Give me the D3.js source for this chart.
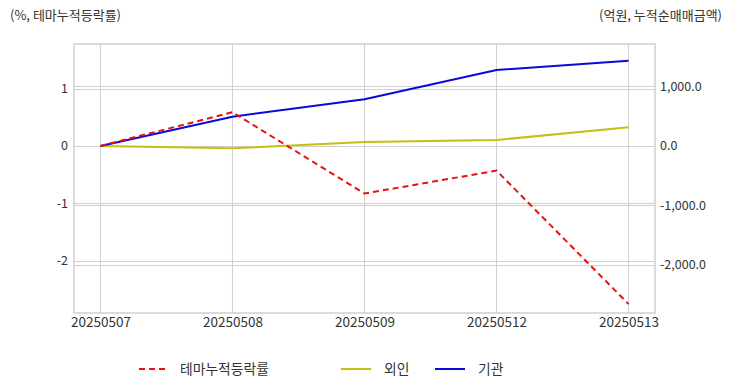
<!DOCTYPE html>
<html><head><meta charset="utf-8">
<script src="https://cdn.jsdelivr.net/npm/d3@7"></script>
<style>
body{margin:0;background:#fff;}
svg text{font-family:"Noto Sans CJK KR","Noto Sans",sans-serif;fill:#333;}
</style></head>
<body><svg id="c" width="732" height="392"></svg>
<script>
const categories = ["20250507","20250508","20250509","20250512","20250513"];
const themeRate = [0, 0.59, -0.83, -0.43, -2.76];
const foreign = [0, -40, 67, 101, 314];
const institution = [0, 492, 785, 1277, 1434];
const leftTicks = [1, 0, -1, -2];
const rightTicks = [1000, 0, -1000, -2000];
const seriesNames = ["테마누적등락률", "외인", "기관"];
const leftTitle = "(%, 테마누적등락률)";
const rightTitle = "(억원, 누적순매매금액)";

const svg = d3.select("#c");
const L = 74, R = 655, T = 44, B = 313;
const x = d3.scalePoint().domain(categories).range([L, R]).padding(0.2);
const yL = d3.scaleLinear().domain([-2.915, 1.78]).range([B, T]);
const yR = d3.scaleLinear().domain([-2807, 1714]).range([B, T]);
const hy = s => s.replace(/\u2212/g, "-");

// gridlines
const g = svg.append("g");
g.selectAll(".gx").data(categories).join("line")
  .attr("x1", d => x(d)).attr("x2", d => x(d)).attr("y1", T).attr("y2", B)
  .attr("stroke", "#d0d0d0").attr("stroke-width", 1);
g.selectAll(".gl").data(leftTicks).join("line")
  .attr("x1", L).attr("x2", R).attr("y1", d => Math.round(yL(d)) + 0.5).attr("y2", d => Math.round(yL(d)) + 0.5)
  .attr("stroke", "#d0d0d0");
g.selectAll(".gr").data(rightTicks).join("line")
  .attr("x1", L).attr("x2", R).attr("y1", d => Math.round(yR(d)) + 0.5).attr("y2", d => Math.round(yR(d)) + 0.5)
  .attr("stroke", "#d0d0d0");
// border
svg.append("rect").attr("x", L).attr("y", T).attr("width", R - L).attr("height", B - T)
  .attr("fill", "none").attr("stroke", "#cfcfcf").attr("stroke-width", 1.5);

// axes
const axL = svg.append("g").attr("transform", `translate(${L},0)`)
  .call(d3.axisLeft(yL).tickValues(leftTicks).tickFormat(d => hy(d3.format("d")(d))).tickSize(0).tickPadding(6));
const axR = svg.append("g").attr("transform", `translate(${R},0)`)
  .call(d3.axisRight(yR).tickValues(rightTicks).tickFormat(d => hy(d3.format(",.1f")(d))).tickSize(0).tickPadding(5));
const axB = svg.append("g").attr("transform", `translate(0,${B})`)
  .call(d3.axisBottom(x).tickSize(0).tickPadding(4));
[axL, axR, axB].forEach(a => { a.select(".domain").remove(); a.selectAll("text").attr("font-size", 12.5).style("fill", "#333"); });
axB.selectAll("text").attr("font-size", 13.5);

// titles
svg.append("text").attr("x", 10).attr("y", 20).attr("font-size", 13).text(leftTitle);
svg.append("text").attr("x", 722).attr("y", 20).attr("font-size", 13).attr("text-anchor", "end").text(rightTitle);

// lines
const lineL = d3.line().x((d, i) => x(categories[i])).y(d => yL(d));
const lineR = d3.line().x((d, i) => x(categories[i])).y(d => yR(d));
svg.append("path").datum(foreign).attr("d", lineR).attr("fill", "none").attr("stroke", "#c8be14").attr("stroke-width", 2);
svg.append("path").datum(institution).attr("d", lineR).attr("fill", "none").attr("stroke", "#0a0ad8").attr("stroke-width", 2);
svg.append("path").datum(themeRate).attr("d", lineL).attr("fill", "none").attr("stroke", "#e81010").attr("stroke-width", 2).attr("stroke-dasharray", "6,4");

// legend
const leg = [
  {name: seriesNames[0], color: "#e81010", dash: "6,4", x: 139, w: 28},
  {name: seriesNames[1], color: "#c8be14", dash: null, x: 341, w: 30},
  {name: seriesNames[2], color: "#0a0ad8", dash: null, x: 435, w: 30}
];
const lg = svg.append("g");
leg.forEach(l => {
  lg.append("line").attr("x1", l.x).attr("x2", l.x + l.w).attr("y1", 369).attr("y2", 369)
    .attr("stroke", l.color).attr("stroke-width", 2).attr("stroke-dasharray", l.dash);
  lg.append("text").attr("x", l.x + l.w + 13).attr("y", 374).attr("font-size", 13.8).text(l.name);
});
</script></body></html>
